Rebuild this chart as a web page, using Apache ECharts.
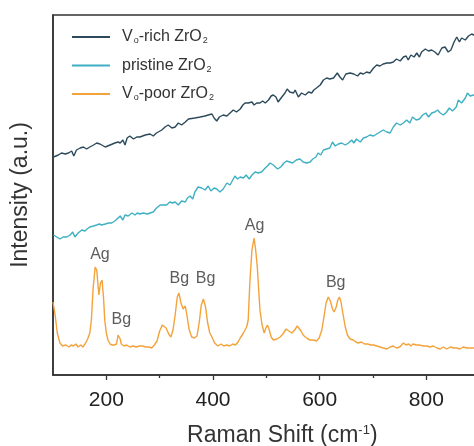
<!DOCTYPE html>
<html><head><meta charset="utf-8">
<script src="https://cdn.jsdelivr.net/npm/echarts@6/dist/echarts.min.js"></script>
<style>html,body{margin:0;padding:0;background:#fff}#c{width:474px;height:446px}</style>
</head><body><div id="c"></div>
<script>
// Raman shift (cm^-1) and intensity (a.u.) pairs
var richData = [[101,218],[110,220],[116,222],[123,221],[129,222],[135,224],[139,219],[144,225],[151,227],[157,228],[163,226],[169,228],[176,230],[182,232],[188,231],[198,228],[207,230],[216,232],[222,233],[226,232],[231,235],[235,230],[239,237],[244,239],[251,236],[257,238],[263,238],[273,240],[282,241],[288,239],[294,242],[304,245],[310,248],[316,250],[323,247],[329,248],[335,252],[341,250],[348,253],[354,256],[357,255],[366,257],[376,258],[385,259],[391,260],[398,261],[402,257],[407,254],[412,258],[419,260],[426,259],[432,262],[438,265],[444,263],[451,266],[456,270],[460,272],[466,272],[473,273],[477,270],[482,272],[488,272],[493,274],[498,272],[504,275],[509,279],[513,280],[518,278],[522,273],[529,278],[535,282],[539,286],[544,283],[551,282],[554,285],[560,278],[566,282],[573,280],[579,283],[585,282],[589,285],[594,287],[601,290],[607,295],[613,297],[619,296],[626,297],[633,302],[638,298],[643,295],[649,301],[657,302],[664,301],[671,299],[676,302],[682,301],[688,303],[694,302],[701,307],[707,310],[713,309],[719,311],[726,312],[732,312],[738,313],[744,316],[751,314],[757,318],[762,319],[766,315],[771,320],[777,318],[782,322],[787,318],[791,323],[798,326],[804,324],[810,325],[816,323],[822,320],[829,327],[835,328],[841,323],[846,325],[852,333],[857,338],[862,333],[866,337],[873,335],[879,339],[885,341],[889,340],[895,340]];
var pristineData = [[101,140],[107,138],[113,136],[119,138],[126,138],[132,140],[137,143],[141,138],[147,142],[154,145],[160,144],[164,146],[169,148],[176,149],[182,150],[187,151],[191,150],[198,151],[204,152],[210,152],[216,154],[222,157],[226,159],[231,155],[235,160],[241,159],[248,162],[254,160],[258,162],[263,161],[269,162],[277,161],[282,162],[288,163],[294,167],[301,170],[307,170],[313,170],[319,173],[324,172],[329,173],[335,170],[341,174],[348,173],[352,177],[357,179],[362,176],[366,183],[372,188],[379,187],[385,185],[391,189],[396,184],[402,187],[407,186],[413,183],[419,186],[426,192],[432,190],[437,195],[441,199],[446,196],[451,198],[457,197],[462,200],[468,196],[473,200],[479,203],[485,202],[491,203],[498,207],[502,209],[507,212],[513,210],[521,206],[527,208],[533,212],[538,214],[544,213],[549,212],[556,215],[563,216],[569,213],[576,212],[582,213],[587,216],[593,218],[597,222],[602,220],[607,225],[613,226],[619,227],[624,233],[629,229],[635,231],[641,232],[648,230],[654,232],[660,235],[664,232],[669,236],[676,233],[682,237],[688,238],[694,240],[701,239],[707,241],[713,243],[719,245],[726,243],[732,242],[738,248],[744,252],[751,250],[757,252],[763,255],[769,252],[774,258],[781,255],[787,256],[793,260],[799,262],[804,258],[810,262],[816,263],[821,265],[826,262],[832,260],[838,263],[843,267],[849,264],[856,268],[860,275],[866,272],[873,277],[877,282],[882,279],[889,280],[895,280]];
var poorData = [[100,73],[104,60],[108,42],[113,32],[118,29],[124,30],[130,28],[134,30],[138,29],[143,31],[147,28],[152,30],[156,28],[160,31],[165,36],[169,42],[172,55],[175,85],[179,108],[182,105],[186,80],[189,92],[192,95],[195,75],[197,55],[200,42],[203,35],[207,31],[211,30],[215,30],[219,31],[222,40],[224,42],[226,36],[228,31],[233,29],[238,30],[244,28],[250,29],[256,28],[262,29],[268,29],[274,28],[280,28],[285,27],[290,30],[295,34],[300,44],[305,50],[308,52],[312,47],[317,41],[321,38],[325,45],[329,60],[333,78],[336,82],[340,72],[344,66],[348,69],[351,60],[355,46],[360,38],[365,37],[370,39],[374,52],[378,70],[382,76],[386,68],[390,52],[394,42],[398,38],[403,32],[409,29],[415,31],[420,29],[426,30],[431,29],[437,31],[442,30],[447,33],[451,37],[457,42],[463,48],[466,55],[469,92],[473,125],[477,137],[480,125],[483,108],[486,82],[488,65],[492,50],[496,42],[499,47],[502,50],[505,46],[509,38],[513,35],[516,33],[520,36],[526,38],[531,41],[537,46],[542,44],[548,42],[553,45],[558,49],[561,50],[565,44],[569,40],[573,38],[578,36],[582,35],[588,35],[594,34],[599,37],[604,45],[608,58],[612,72],[616,78],[620,74],[624,66],[627,63],[631,68],[634,75],[637,78],[640,73],[644,60],[648,48],[652,40],[657,36],[663,35],[668,33],[672,32],[678,33],[684,31],[690,31],[696,30],[701,30],[707,29],[713,28],[719,27],[726,26],[732,28],[738,29],[744,27],[750,28],[757,32],[762,30],[767,31],[771,29],[775,31],[781,30],[787,30],[794,29],[801,29],[807,28],[813,29],[820,27],[826,26],[832,28],[838,26],[845,28],[851,27],[857,27],[863,26],[869,28],[876,27],[882,27],[889,27],[895,27]];
var peakNames = ['Ag','Bg','Bg','Bg','Ag','Bg'];
var peakShift = [188,228,337,386,478,630];
var peakLabelI = [120,55,96,96,149,92];
var majorTicks = [200,400,600,800];
var minorTicks = [300,500,700];
var seriesNames = ['V{sub|o}-rich ZrO{sub|2}','pristine ZrO{sub|2}','V{sub|o}-poor ZrO{sub|2}'];

var FONT = "'Liberation Sans', Arial, sans-serif";
var chart = echarts.init(document.getElementById('c'), null, {renderer:'canvas'});
var peakData = peakShift.map(function(x,i){ return {name: peakNames[i], value:[x, peakLabelI[i]]}; });
function lineSeries(name, data, color){
  return {name:name, type:'line', data:data, symbol:'none', smooth:false,
    lineStyle:{color:color, width:1.4}, itemStyle:{color:color}, animation:false};
}
chart.setOption({
  animation:false,
  textStyle:{fontFamily:FONT},
  grid:{left:53, top:15, width:426.7, height:360, outerBoundsMode:'none', containLabel:false,
    show:true, borderColor:'#333', borderWidth:1.5, backgroundColor:'transparent'},
  legend:{
    data:seriesNames, orient:'vertical', left:67, top:24, itemWidth:38, itemHeight:2, itemGap:12,
    icon:'rect',
    textStyle:{fontFamily:FONT, fontSize:16, color:'#333', padding:[0,0,0,7],
      rich:{sub:{fontSize:9, verticalAlign:'bottom', padding:[8,0,0,1], fontFamily:FONT, color:'#333'}}}
  },
  xAxis:[{
    type:'value', min:100, max:900, interval:100,
    axisLine:{show:true, lineStyle:{color:'#333', width:1.5}},
    axisTick:{show:true, customValues:majorTicks, length:5, lineStyle:{color:'#333', width:1.3}},
    axisLabel:{customValues:majorTicks, fontSize:21, color:'#222', margin:15, fontFamily:FONT},
    splitLine:{show:false},
    name:'Raman Shift (cm{sup|-1})', nameLocation:'middle', nameGap:49,
    nameTextStyle:{fontSize:23, color:'#333', fontFamily:FONT, padding:[0,0,0,32],
      rich:{sup:{fontSize:13, verticalAlign:'top', padding:[0,0,10,0], fontFamily:FONT, color:'#333'}}}
  },{
    type:'value', min:100, max:900, interval:100, position:'bottom',
    axisLine:{show:false},
    axisTick:{show:true, customValues:minorTicks, length:3, lineStyle:{color:'#333', width:1.3}},
    axisLabel:{show:false}, splitLine:{show:false}
  }],
  yAxis:{
    type:'value', min:0, max:360,
    axisLine:{show:true, lineStyle:{color:'#333', width:1.5}},
    axisTick:{show:false}, axisLabel:{show:false}, splitLine:{show:false},
    name:'Intensity (a.u.)', nameLocation:'middle', nameGap:21,
    nameTextStyle:{fontSize:23, color:'#333', fontFamily:FONT}
  },
  series:[
    lineSeries(seriesNames[0], richData, '#2c4a5b'),
    lineSeries(seriesNames[1], pristineData, '#3eb0c3'),
    lineSeries(seriesNames[2], poorData, '#f4a23a'),
    {type:'scatter', data:peakData, symbolSize:0, silent:true, animation:false,
     label:{show:true, position:'inside', formatter:'{b}', fontSize:16, color:'#333', fontFamily:FONT}}
  ]
});
</script></body></html>
